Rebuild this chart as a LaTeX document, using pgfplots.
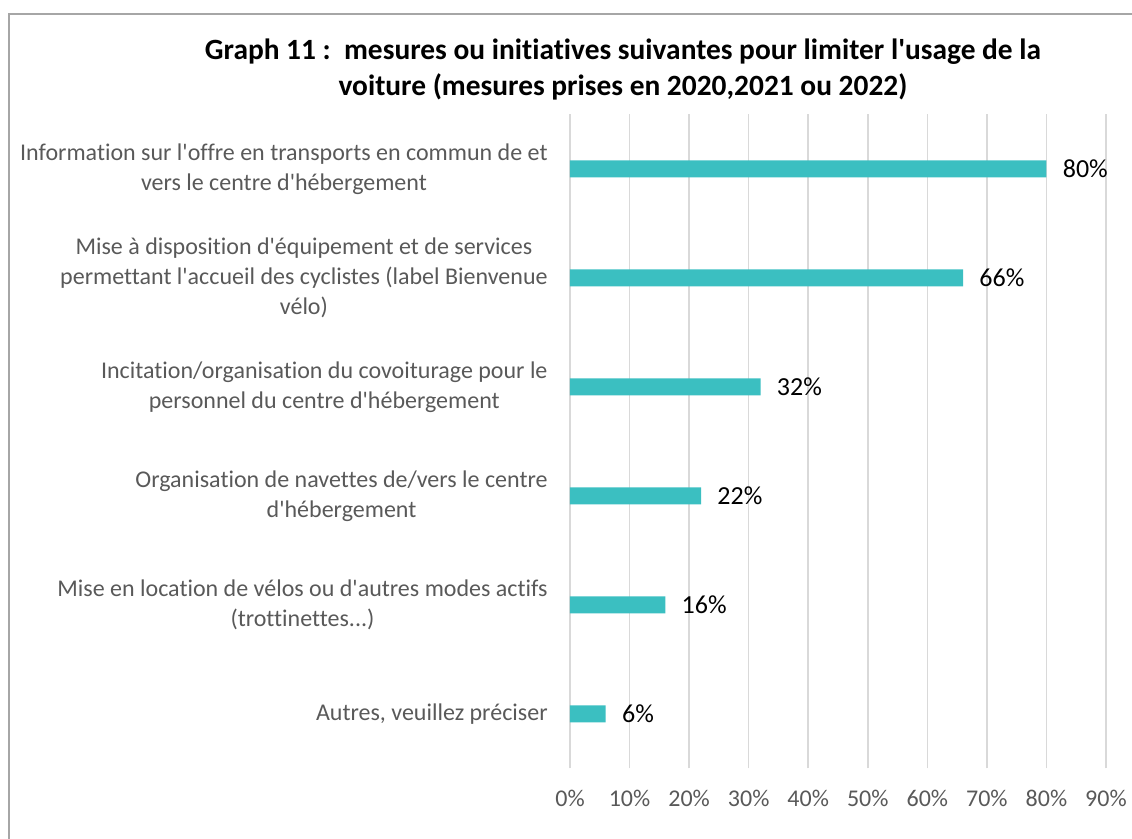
\documentclass[border=0pt]{standalone}
\usepackage{pgfplots}
\pgfplotsset{compat=1.18}
\usepackage{fontspec}
\setmainfont{Carlito}[Ligatures={TeXOff,CommonOff}]

\definecolor{barteal}{RGB}{59,191,193}
\definecolor{labgrey}{RGB}{89,89,89}
\definecolor{gridgrey}{RGB}{217,217,217}
\definecolor{framegrey}{RGB}{166,166,166}

\begin{document}
\begin{tikzpicture}[x=0.5pt,y=0.5pt]
% picture is 1132 x 839 "pixels", 1px = 0.5pt, y measured from the bottom
\path[use as bounding box] (0,0) rectangle (1132,839);
\draw[framegrey, line width=1pt] (9,0) -- (9,825) -- (1132,825);

\node[align=center, font=\bfseries\fontsize{14.7}{18}\selectfont] at (623,769)
  {Graph 11 :\ \ mesures ou initiatives suivantes pour limiter l'usage de la\\
   voiture (mesures prises en 2020,2021 ou 2022)};

\begin{axis}[
    at={(285pt,35.25pt)}, anchor=south west,
    scale only axis,
    width=268pt, height=327pt,
    xbar, bar width=8.5pt,
    xmin=0, xmax=90,
    ymin=-0.5, ymax=5.5,
    axis line style={draw=none},
    xmajorgrids=true,
    grid style={gridgrey, line width=0.75pt},
    xtick={0,10,20,30,40,50,60,70,80,90},
    xticklabels={0\%,10\%,20\%,30\%,40\%,50\%,60\%,70\%,80\%,90\%},
    ytick={0,1,2,3,4,5},
    yticklabels={
      {Autres, veuillez préciser},
      {Mise en location de vélos ou d'autres modes actifs\\(trottinettes.{}.{}.)},
      {Organisation de navettes de/vers le centre\\d'hébergement},
      {Incitation/organisation du covoiturage pour le\\personnel du centre d'hébergement},
      {Mise à disposition d'équipement et de services\\permettant l'accueil des cyclistes (label Bienvenue\\vélo)},
      {Information sur l'offre en transports en commun de et\\vers le centre d'hébergement}
    },
    major tick length=0pt,
    tick style={draw=none},
    /pgf/number format/assume math mode=true,
    yticklabel style={align=center, text=labgrey, inner sep=0pt, xshift=-11pt,
      font=\fontsize{12}{15}\selectfont},
    xticklabel style={text=labgrey, inner sep=0pt, yshift=-10.5pt,
      font=\fontsize{12}{15}\selectfont},
    nodes near coords={\pgfmathprintnumber{\pgfplotspointmeta}\%},
    nodes near coords style={black, font=\fontsize{13}{15}\selectfont,
      anchor=west, inner sep=0pt, xshift=8pt},
]
\addplot[fill=barteal, draw=none] coordinates {
    (6,0)
    (16,1)
    (22,2)
    (32,3)
    (66,4)
    (80,5)
};
\end{axis}
\end{tikzpicture}
\end{document}
